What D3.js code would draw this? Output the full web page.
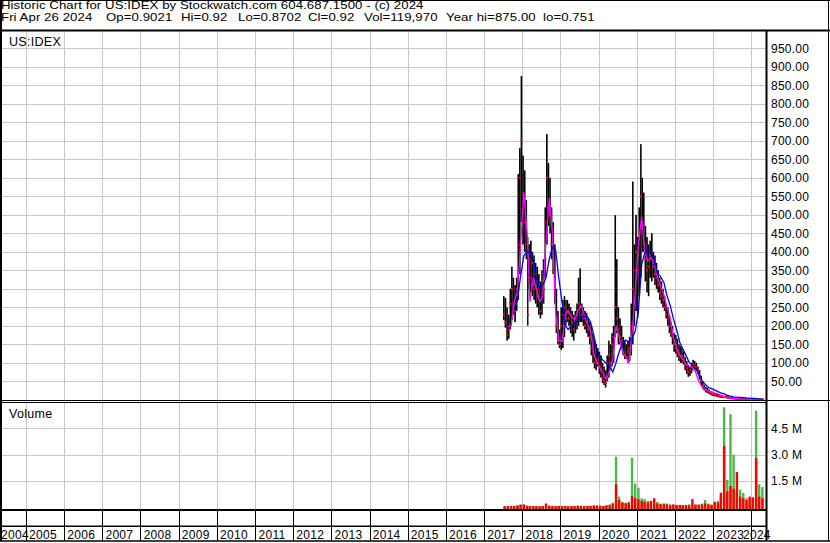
<!DOCTYPE html>
<html>
<head>
<meta charset="utf-8">
<script src="https://cdn.jsdelivr.net/npm/d3@7"></script>
<style>
  body { margin: 0; background: #fff; }
  svg { display: block; font-family: Arial, "Liberation Sans", sans-serif; }
</style>
</head>
<body>
<div id="root"></div>
<script>
// Size of the picture
const width = 830;
const height = 543;

// Text
const titleLine = "Historic Chart for US:IDEX by Stockwatch.com 604.687.1500 - (c) 2024";
const quoteFields = ["Fri Apr 26 2024", "Op=0.9021", "Hi=0.92", "Lo=0.8702", "Cl=0.92", "Vol=119,970", "Year hi=875.00", "lo=0.751"];
const quoteFieldX = [1, 106, 181, 238, 308, 364, 446, 543];
const symbol = "US:IDEX";

// Tick labels
const yearLabels = ["2004", "2005", "2006", "2007", "2008", "2009", "2010", "2011", "2012", "2013", "2014",
  "2015", "2016", "2017", "2018", "2019", "2020", "2021", "2022", "2023", "2024"];
const priceTicks = [50, 100, 150, 200, 250, 300, 350, 400, 450, 500, 550, 600, 650, 700, 750, 800, 850, 900, 950];
const volumeTicks = [1.5, 3.0, 4.5];

// Half-month price bars, starting July 2017 (first and second half of each month)
const barHigh = [
  280, 275, 250, 230, 300, 360, 330, 310, 330, 610, 680, 875, // 2017 Jul-Dec
  660, 620, 540, 440, 420, 430, 400, 390, 370, 360, 340, 320, 350, 380, 520, 718, 640, 600, 520, 480, 420, 300, 240, 190, // 2018
  250, 270, 280, 270, 270, 260, 250, 240, 230, 240, 260, 330, 355, 260, 250, 240, 235, 220, 210, 200, 180, 160, 150, 140, // 2019
  130, 120, 100, 90, 80, 120, 160, 150, 180, 200, 499, 380, 250, 220, 200, 170, 160, 150, 160, 170, 260, 590, 420, 500, // 2020
  440, 520, 691, 600, 560, 470, 440, 420, 430, 450, 400, 390, 370, 350, 330, 320, 300, 280, 260, 250, 230, 210, 200, 180, // 2021
  175, 165, 150, 145, 140, 130, 115, 105, 95, 90, 100, 108, 105, 100, 90, 80, 65, 50, 40, 35, 32, 28, 24, 22, // 2022
  20, 18, 16, 14, 13, 12, 11, 10, 12, 10, 8, 7, 6, 5, 4, 4, 3, 3, 3, 2.5, 2.5, 2, 2, 2, // 2023
  1.8, 1.6, 1.5, 1.4, 1.3, 1.2, 1.0, 0.95 // 2024 Jan-Apr
];
const barLow = [
  215, 195, 160, 165, 190, 215, 230, 210, 240, 270, 340, 480,
  420, 400, 380, 200, 300, 290, 280, 270, 260, 250, 230, 220, 230, 260, 330, 420, 470, 450, 380, 340, 260, 180, 150, 140,
  135, 140, 170, 200, 210, 200, 180, 170, 160, 180, 190, 200, 210, 210, 200, 190, 180, 170, 150, 120, 100, 85, 80, 90,
  70, 60, 45, 40, 33, 50, 60, 80, 90, 100, 170, 180, 150, 150, 140, 120, 110, 110, 100, 105, 120, 150, 200, 240,
  220, 280, 330, 400, 400, 320, 290, 280, 330, 320, 330, 310, 300, 290, 270, 260, 250, 240, 220, 200, 180, 170, 150, 130,
  125, 115, 105, 100, 100, 95, 80, 70, 62, 65, 72, 80, 82, 78, 70, 55, 40, 30, 25, 20, 18, 16, 13, 11,
  10, 9, 8, 7, 6, 5, 5, 5, 4, 4, 3, 3, 3, 2, 2, 2, 1.5, 1.5, 1.2, 1.2, 1, 1, 1, 1,
  0.9, 0.8, 0.8, 0.8, 0.8, 0.8, 0.75, 0.87
];
const barClose = [
  230, 210, 175, 190, 260, 300, 260, 240, 300, 420, 600, 700,
  560, 480, 420, 230, 380, 330, 370, 300, 340, 280, 300, 240, 320, 300, 480, 600, 520, 500, 420, 360, 300, 200, 160, 150,
  200, 230, 250, 220, 240, 220, 200, 210, 190, 220, 230, 260, 250, 230, 220, 200, 210, 190, 170, 140, 130, 100, 110, 100,
  90, 80, 60, 50, 45, 100, 120, 100, 150, 170, 250, 220, 190, 170, 160, 130, 120, 115, 130, 140, 200, 300, 350, 400,
  350, 450, 550, 480, 420, 380, 350, 360, 390, 380, 360, 340, 330, 310, 290, 280, 270, 250, 230, 220, 200, 180, 170, 150,
  140, 130, 120, 115, 118, 110, 95, 85, 75, 80, 90, 95, 92, 88, 80, 65, 50, 38, 30, 26, 24, 20, 18, 15,
  14, 12, 11, 10, 9, 8, 7, 7, 8, 6, 5, 4, 4, 3, 3, 2.5, 2, 2, 1.8, 1.6, 1.5, 1.4, 1.3, 1.2,
  1.1, 1.0, 1.0, 0.95, 0.9, 0.9, 0.88, 0.92
];

// Monthly moving averages, starting July 2017
const maShort = [
  null, 197, 200, 265, 295, 420, // 2017
  560, 450, 265, 330, 300, 265, 280, 430, 545, 450, 240, 160, // 2018
  158, 230, 240, 225, 216, 240, 255, 230, 205, 185, 125, 100, // 2019
  85, 70, 55, 80, 110, 200, 170, 130, 117, 100, 180, 290, // 2020
  420, 495, 400, 375, 385, 365, 333, 306, 285, 250, 220, 170, // 2021
  140, 122, 110, 96, 90, 86, 76, 50, 35, 28, 24, 21, // 2022
  18, 16, 12, 8, 6, 5, 4, 3, 2.5, 2, 1.8, 1.5, // 2023
  1.3, 1.1, 1.0, 0.9 // 2024
];
const maLong = [
  null, null, null, 245, 270, 335,
  390, 400, 398, 380, 330, 300, 310, 330, 380, 412, 405, 330,
  265, 200, 190, 200, 207, 215, 224, 226, 225, 210, 175, 135,
  115, 106, 98, 90, 75, 100, 130, 152, 162, 155, 165, 185,
  240, 365, 396, 405, 405, 372, 342, 333, 318, 282, 255, 220,
  190, 155, 138, 120, 102, 93, 85, 70, 52, 42, 34, 30,
  26, 22, 19, 16, 12, 10, 8, 7, 6.5, 6, 5, 4.5,
  4, 3.2, 2.5, 2
];

// Monthly volume in millions, up days and down days, starting July 2017
const volUp = [
  0.05, 0.04, 0.06, 0.05, 0.08, 0.15,
  0.12, 0.06, 0.05, 0.04, 0.04, 0.05, 0.05, 0.12, 0.06, 0.05, 0.04, 0.05,
  0.05, 0.04, 0.05, 0.04, 0.06, 0.08, 0.05, 0.04, 0.05, 0.06, 0.08, 0.07,
  0.06, 0.05, 0.08, 0.15, 0.25, 2.88, 0.60, 0.30, 0.25, 0.30, 2.82, 1.35,
  1.10, 0.50, 0.45, 0.35, 0.30, 0.25, 0.30, 0.20, 0.15, 0.20, 0.15, 0.12,
  0.10, 0.10, 0.12, 0.10, 0.15, 0.10, 0.12, 0.15, 0.20, 0.40, 0.20, 0.15,
  0.25, 0.35, 0.60, 5.70, 1.55, 5.30, 3.00, 0.90, 1.00, 0.80, 0.50, 0.45,
  0.50, 5.50, 1.30, 1.15
];
const volDown = [
  0.04, 0.05, 0.05, 0.06, 0.10, 0.12,
  0.15, 0.08, 0.06, 0.05, 0.05, 0.04, 0.06, 0.20, 0.08, 0.06, 0.05, 0.06,
  0.06, 0.05, 0.04, 0.05, 0.05, 0.07, 0.06, 0.05, 0.06, 0.07, 0.09, 0.08,
  0.08, 0.06, 0.10, 0.10, 0.20, 1.30, 0.40, 0.25, 0.20, 0.25, 0.62, 0.50,
  0.45, 0.35, 0.30, 0.25, 0.35, 0.50, 0.20, 0.15, 0.20, 0.15, 0.10, 0.15,
  0.12, 0.12, 0.10, 0.12, 0.10, 0.45, 0.15, 0.12, 0.15, 0.20, 0.15, 0.10,
  0.30, 0.25, 0.82, 3.50, 0.90, 1.20, 1.05, 2.00, 0.60, 0.50, 0.40, 0.60,
  0.55, 2.80, 0.60, 0.50
];

// Panel edges
const plotLeft = 2;
const plotRight = 766.5;
const priceTop = 31.5;
const priceBottom = 400.5;
const volTop = 402.5;
const volBottom = 509.5;
const axisMid = 526.3;
const axisBottom = 541;

const grid = "#c8c8c8";
const green = "#4cb84c";

// Dates for the bars
const halfStart = i => new Date(2017, 6 + Math.floor(i / 2), i % 2 ? 16 : 1);
const monthMid = m => new Date(2017, 6 + m, 16);

// Scales
const xScale = d3.scaleTime()
  .domain([new Date(2005, 0, 1), new Date(2024, 0, 1)])
  .range([26, 751.3]);

const yPrice = d3.scaleLinear().domain([0, 950]).range([399.8, 48.3]);
const yVol = d3.scaleLinear().domain([0, 4.5]).range([507, 428.3]);

const px = v => Math.round(v) + 0.5;

const svg = d3.select("#root")
  .append("svg")
  .attr("width", width)
  .attr("height", height);

svg.append("rect").attr("width", width).attr("height", height).attr("fill", "#fff");

// Clip areas
const defs = svg.append("defs");
defs.append("clipPath").attr("id", "clip-price")
  .append("rect").attr("x", plotLeft).attr("y", priceTop)
  .attr("width", plotRight - plotLeft - 1).attr("height", priceBottom - priceTop);
defs.append("clipPath").attr("id", "clip-vol")
  .append("rect").attr("x", plotLeft).attr("y", volTop)
  .attr("width", plotRight - plotLeft - 1).attr("height", volBottom - volTop);

// Year boundaries
const yearStart = yearLabels.map(y => xScale(new Date(+y, 0, 1)));
const yearEnd = yearLabels.map(y => xScale(new Date(+y + 1, 0, 1)));
const yearLines = yearStart.filter(v => v > plotLeft && v < plotRight - 1);

// Gridlines, price panel
const gridG = svg.append("g").attr("stroke", grid).attr("stroke-width", 1);
gridG.selectAll("line.hp")
  .data(priceTicks)
  .enter()
  .append("line")
  .attr("x1", plotLeft).attr("x2", plotRight - 1)
  .attr("y1", d => px(yPrice(d))).attr("y2", d => px(yPrice(d)));
gridG.selectAll("line.vp")
  .data(yearLines)
  .enter()
  .append("line")
  .attr("x1", d => px(d)).attr("x2", d => px(d))
  .attr("y1", priceTop).attr("y2", priceBottom);

// Gridlines, volume panel
gridG.selectAll("line.hv")
  .data(volumeTicks)
  .enter()
  .append("line")
  .attr("x1", plotLeft).attr("x2", plotRight - 1)
  .attr("y1", d => px(yVol(d))).attr("y2", d => px(yVol(d)));
gridG.selectAll("line.vv")
  .data(yearLines)
  .enter()
  .append("line")
  .attr("x1", d => px(d)).attr("x2", d => px(d))
  .attr("y1", volTop).attr("y2", volBottom);

// Price bars
const priceG = svg.append("g").attr("clip-path", "url(#clip-price)");

priceG.append("g")
  .selectAll("rect")
  .data(barHigh)
  .enter()
  .append("rect")
  .attr("x", (d, i) => xScale(halfStart(i)))
  .attr("width", (d, i) => Math.max(1.2, xScale(halfStart(i + 1)) - xScale(halfStart(i))))
  .attr("y", d => yPrice(d))
  .attr("height", (d, i) => Math.max(1, yPrice(barLow[i]) - yPrice(d)))
  .attr("fill", "#000");

// Close marks
priceG.append("g")
  .selectAll("rect")
  .data(barClose)
  .enter()
  .append("rect")
  .attr("x", (d, i) => (xScale(halfStart(i)) + xScale(halfStart(i + 1))) / 2 - 1)
  .attr("y", d => yPrice(d) - 1)
  .attr("width", 2)
  .attr("height", 2)
  .attr("fill", "#ff0000");

// Moving averages
function drawAverage(values, color) {
  const line = d3.line()
    .defined(d => d != null)
    .x((d, i) => xScale(monthMid(i)))
    .y(d => yPrice(d));
  priceG.append("path")
    .datum(values)
    .attr("fill", "none")
    .attr("stroke", color)
    .attr("stroke-width", 1.3)
    .attr("d", line);
}
drawAverage(maShort, "#ff00ff");
drawAverage(maLong, "#0000ff");

// Volume bars
const volG = svg.append("g").attr("clip-path", "url(#clip-vol)");
function drawVolume(values, color) {
  volG.append("g")
    .selectAll("rect")
    .data(values)
    .enter()
    .append("rect")
    .attr("x", (d, i) => xScale(monthMid(i)) - 1.2)
    .attr("width", 2.4)
    .attr("y", d => yVol(d))
    .attr("height", d => volBottom - yVol(d))
    .attr("fill", color);
}
drawVolume(volUp, green);
drawVolume(volDown, "#ff0000");

// Frame lines
const frame = svg.append("g").attr("stroke", "#000").attr("fill", "none");
frame.append("line").attr("x1", 0).attr("x2", width).attr("y1", 0.5).attr("y2", 0.5);
frame.append("line").attr("x1", 0).attr("x2", width).attr("y1", 30.5).attr("y2", 30.5).attr("stroke-width", 2);
frame.append("line").attr("x1", 1).attr("x2", 1).attr("y1", 0).attr("y2", axisBottom).attr("stroke-width", 2);
frame.append("line").attr("x1", 828.5).attr("x2", 828.5).attr("y1", 0).attr("y2", axisBottom);
frame.append("line").attr("x1", plotRight).attr("x2", plotRight).attr("y1", 30).attr("y2", axisBottom).attr("stroke-width", 2);
frame.append("line").attr("x1", 0).attr("x2", width).attr("y1", priceBottom).attr("y2", priceBottom);
frame.append("line").attr("x1", 0).attr("x2", plotRight).attr("y1", volTop).attr("y2", volTop);
frame.append("line").attr("x1", 0).attr("x2", plotRight).attr("y1", volBottom + 0.5).attr("y2", volBottom + 0.5).attr("stroke-width", 2);
frame.append("line").attr("x1", 0).attr("x2", plotRight).attr("y1", axisMid).attr("y2", axisMid).attr("stroke-width", 1.5);
frame.append("line").attr("x1", 0).attr("x2", width).attr("y1", axisBottom).attr("y2", axisBottom).attr("stroke-width", 1.5);

// Year dividers on the time axis
frame.selectAll("line.year")
  .data(yearLines)
  .enter()
  .append("line")
  .attr("x1", d => px(d)).attr("x2", d => px(d))
  .attr("y1", volBottom).attr("y2", axisBottom);

// Year labels, centred in the visible part of each year
svg.append("g")
  .selectAll("text")
  .data(yearLabels)
  .enter()
  .append("text")
  .attr("x", (d, i) => Math.max(15, (Math.max(yearStart[i], plotLeft) + Math.min(yearEnd[i], plotRight)) / 2 - 2))
  .attr("y", 539)
  .attr("text-anchor", "middle")
  .attr("font-size", 12)
  .attr("letter-spacing", 0.3)
  .attr("fill", "#000")
  .text(d => d);

// Price axis
const priceAxis = svg.append("g")
  .attr("transform", "translate(" + plotRight + ",0)")
  .call(d3.axisRight(yPrice).tickValues(priceTicks).tickSize(0).tickPadding(4.5).tickFormat(d3.format(".2f")));
priceAxis.select(".domain").remove();
priceAxis.selectAll("text")
  .attr("font-family", "Arial, 'Liberation Sans', sans-serif")
  .attr("font-size", 12)
  .attr("letter-spacing", 0.25)
  .attr("fill", "#000");

// Volume axis
const volAxis = svg.append("g")
  .attr("transform", "translate(" + plotRight + ",0)")
  .call(d3.axisRight(yVol).tickValues(volumeTicks).tickSize(0).tickPadding(4.5).tickFormat(d => d.toFixed(1) + " M"));
volAxis.select(".domain").remove();
volAxis.selectAll("text")
  .attr("font-family", "Arial, 'Liberation Sans', sans-serif")
  .attr("font-size", 12)
  .attr("letter-spacing", 0.25)
  .attr("fill", "#000");

// Header, a small font stretched sideways
const stretch = 1.26;
const header = svg.append("g")
  .attr("transform", "scale(" + stretch + ",1)")
  .attr("font-size", 10.5)
  .attr("letter-spacing", 0.05)
  .attr("fill", "#000");
header.append("text").attr("x", 1 / stretch).attr("y", 9).text(titleLine);
header.append("g")
  .selectAll("text")
  .data(quoteFields)
  .enter()
  .append("text")
  .attr("x", (d, i) => quoteFieldX[i] / stretch)
  .attr("y", 21)
  .text(d => d);

// Panel labels
const labels = svg.append("g")
  .attr("font-size", 12.5)
  .attr("letter-spacing", 0.3)
  .attr("fill", "#000");
labels.append("text").attr("x", 9).attr("y", 46).text(symbol);
labels.append("text").attr("x", 9).attr("y", 418).text("Volume");
</script>
</body>
</html>
